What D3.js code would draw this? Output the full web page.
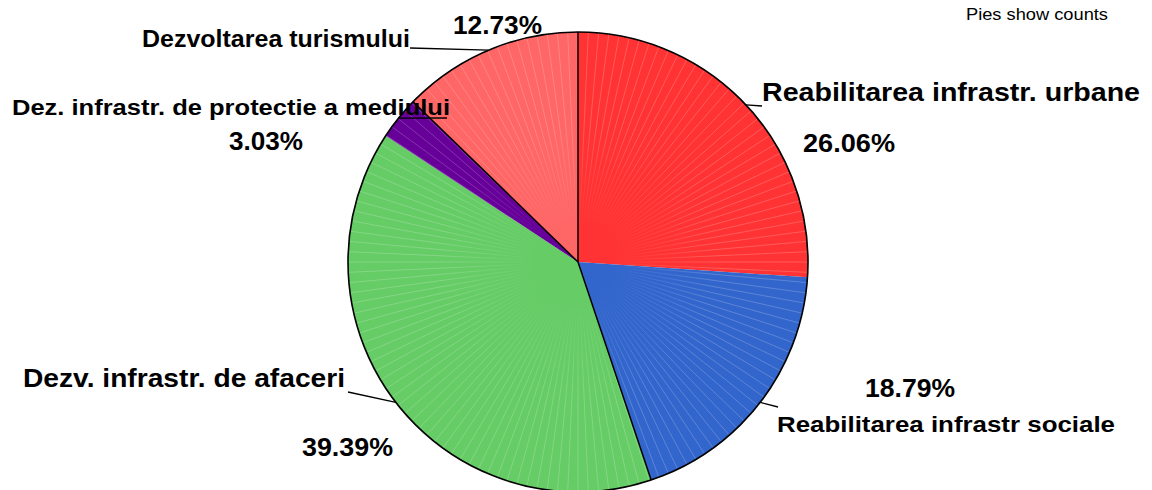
<!DOCTYPE html>
<html>
<head>
<meta charset="utf-8">
<title>Pie</title>
<style>
  body { margin: 0; background: #fff; }
  text { font-family: "Liberation Sans", Arial, sans-serif; fill: #000; }
  .lbl { font-weight: bold; }
  .leader { stroke: #000; stroke-width: 1.3px; fill: none; }
</style>
<script src="https://d3js.org/d3.v7.min.js"></script>
</head>
<body>
<script>
// data
var categories = [
  "Reabilitarea infrastr. urbane",
  "Reabilitarea infrastr sociale",
  "Dezv. infrastr. de afaceri",
  "Dez. infrastr. de protectie a mediului",
  "Dezvoltarea turismului"
];
var counts = [86, 62, 130, 10, 42];
var colors = ["#ff3333", "#3366cc", "#66cc66", "#660099", "#ff6666"];
var note = "Pies show counts";

// label layout: name position, percent position, leader end
var layout = [
  { nx: 762, ny: 101, nw: 378, ns: 25, px: 803, py: 152, pw: 92, lx: 762, ly: 106 },
  { nx: 777, ny: 432, nw: 338, ns: 22, px: 865, py: 397, pw: 90, lx: 778, ly: 407 },
  { nx: 23,  ny: 387, nw: 322, ns: 25, px: 302, py: 456, pw: 91, lx: 348, ly: 392 },
  { nx: 12,  ny: 115, nw: 438, ns: 22, px: 229, py: 150, pw: 74, lx: 447, ly: 118 },
  { nx: 142, ny: 47,  nw: 268, ns: 23, px: 453, py: 34,  pw: 89, lx: 410, ly: 48 }
];
// slice starts that get a black radial edge
var blackEdges = [0, 2, 4];

var width = 1152, height = 490;
var cx = 578, cy = 262, r = 230;
var total = d3.sum(counts);
var fmt = d3.format(".2%");

var svg = d3.select("body").append("svg")
    .attr("width", width)
    .attr("height", height);

// mask fading the seams towards the centre
var defs = svg.append("defs");
var grad = defs.append("radialGradient").attr("id", "fade")
    .attr("gradientUnits", "userSpaceOnUse")
    .attr("cx", 0).attr("cy", 0).attr("r", r);
grad.append("stop").attr("offset", "0%").attr("stop-color", "#000");
grad.append("stop").attr("offset", "15%").attr("stop-color", "#000");
grad.append("stop").attr("offset", "60%").attr("stop-color", "#fff");
grad.append("stop").attr("offset", "100%").attr("stop-color", "#fff");
defs.append("mask").attr("id", "seamMask")
    .attr("maskUnits", "userSpaceOnUse")
    .attr("x", -r - 5).attr("y", -r - 5).attr("width", 2 * r + 10).attr("height", 2 * r + 10)
  .append("circle").attr("r", r + 2).attr("fill", "url(#fade)");

var g = svg.append("g").attr("transform", "translate(" + cx + "," + cy + ")");

var pie = d3.pie().sort(null).value(function(d) { return d; });
var arcs = pie(counts);
var arc = d3.arc().innerRadius(0).outerRadius(r);
var rim = d3.arc().innerRadius(r).outerRadius(r);

g.selectAll("path.slice")
  .data(arcs)
  .enter().append("path")
  .attr("class", "slice")
  .attr("d", arc)
  .attr("fill", function(d, i) { return colors[i]; });

// faint seams inside the slices
var seamStep = 2 * Math.PI / 140;
var seams = d3.range(0, 2 * Math.PI, seamStep);
g.append("g").attr("mask", "url(#seamMask)")
  .selectAll("line.seam")
  .data(seams)
  .enter().append("line")
  .attr("class", "seam")
  .attr("x1", 0)
  .attr("y1", 0)
  .attr("x2", function(a) { return r * Math.sin(a); })
  .attr("y2", function(a) { return -r * Math.cos(a); })
  .attr("stroke", "rgba(255,255,255,0.4)")
  .attr("stroke-width", 0.5);

// black radial edges
blackEdges.forEach(function(i) {
  var ang = arcs[i].startAngle;
  g.append("line")
    .attr("x1", 0).attr("y1", 0)
    .attr("x2", r * Math.sin(ang)).attr("y2", -r * Math.cos(ang))
    .attr("stroke", "#000").attr("stroke-width", 1.5);
});

g.append("circle").attr("r", r).attr("fill", "none")
  .attr("stroke", "#000").attr("stroke-width", 1.6);

// labels
arcs.forEach(function(a, i) {
  var L = layout[i];
  var c = rim.centroid(a);
  svg.append("line").attr("class", "leader")
    .attr("x1", cx + c[0]).attr("y1", cy + c[1])
    .attr("x2", L.lx).attr("y2", L.ly);
  svg.append("text").attr("class", "lbl")
    .attr("x", L.nx).attr("y", L.ny)
    .attr("font-size", L.ns)
    .attr("textLength", L.nw).attr("lengthAdjust", "spacingAndGlyphs")
    .text(categories[i]);
  svg.append("text").attr("class", "lbl")
    .attr("x", L.px).attr("y", L.py)
    .attr("font-size", 26)
    .attr("textLength", L.pw).attr("lengthAdjust", "spacingAndGlyphs")
    .text(fmt(counts[i] / total));
});

svg.append("text")
  .attr("x", 966).attr("y", 20)
  .attr("font-size", 16)
  .attr("textLength", 142).attr("lengthAdjust", "spacingAndGlyphs")
  .text(note);
</script>
</body>
</html>
